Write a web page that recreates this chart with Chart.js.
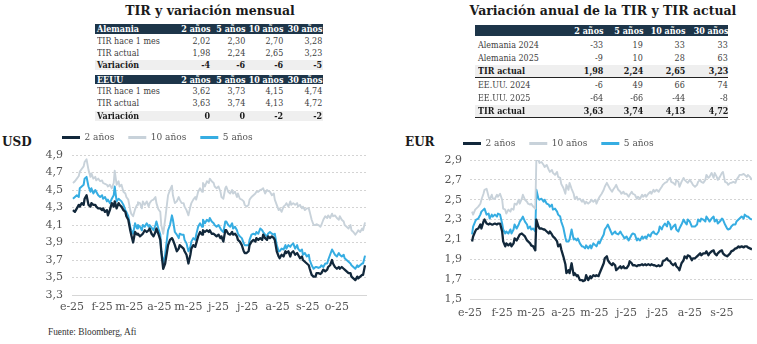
<!DOCTYPE html>
<html lang="es">
<head>
<meta charset="utf-8">
<title>TIR deuda pública EUR y USD</title>
<script src="https://cdn.jsdelivr.net/npm/chart.js@4.4.1/dist/chart.umd.min.js"></script>
<style>
  html, body { margin: 0; padding: 0; background: #fff; }
  body { width: 757px; height: 344px; position: relative; overflow: hidden;
         font-family: 'DejaVu Serif', serif; }
  .title { position: absolute; white-space: nowrap; font-weight: bold; font-size: 12.5px;
           line-height: 14px; color: #1a1a1a; transform: translateX(-50%); }
  .row { position: absolute; white-space: nowrap; font-size: 10px; color: #404040; }
  .row span { position: absolute; top: 0; transform: scaleX(0.8); }
  .row span.lab { transform-origin: left center; }
  .row span.val { transform-origin: right center; }
  .hdr { background: #1d3549; color: #fff; font-weight: bold; }
  .sub { background: #efefef; color: #1a1a1a; font-weight: bold; }
  .ccy { position: absolute; font-weight: bold; font-size: 12px; line-height: 14px; color: #1a1a1a; }
  .box { position: absolute; }
  .note { position: absolute; font-family: 'Liberation Serif', serif; font-size: 9.3px; color: #333; white-space: nowrap; }
</style>
</head>
<body>
<div class="title" style="left:210px;top:4px;">TIR y variación mensual</div>
<div class="title" style="left:603px;top:4px;">Variación anual de la TIR y TIR actual</div>
<div class="ccy" style="left:2px;top:135px;">USD</div>
<div class="ccy" style="left:405px;top:135px;">EUR</div>
<div class="box" style="left:30px;top:119px;"><canvas id="usd" width="350" height="198"></canvas></div>
<div class="box" style="left:431px;top:125px;"><canvas id="eur" width="326" height="198"></canvas></div>
<div class="note" style="left:48px;top:327px;">Fuente: Bloomberg, Afi</div>
<script>
// ---- Tablas ----
const plazos = ['2 años', '5 años', '10 años', '30 años'];
const alemaniaHace1Mes = [2.02, 2.30, 2.70, 3.28];
const alemaniaActual   = [1.98, 2.24, 2.65, 3.23];
const alemaniaVariacion = [-4, -6, -6, -5];
const eeuuHace1Mes = [3.62, 3.73, 4.15, 4.74];
const eeuuActual   = [3.63, 3.74, 4.13, 4.72];
const eeuuVariacion = [0, 0, -2, -2];
const alemania2024 = [-33, 19, 33, 33];
const alemania2025 = [-9, 10, 28, 63];
const eeuu2024 = [-6, 49, 66, 74];
const eeuu2025 = [-64, -66, -44, -8];

// ---- Eje temporal (día del año 2025, 0 = 1 de enero) ----
const monthStarts = [0, 31, 59, 90, 120, 151, 181, 212, 243, 273];
const monthLabels = ['e-25', 'f-25', 'm-25', 'a-25', 'm-25', 'j-25', 'j-25', 'a-25', 's-25', 'o-25'];

// ---- USD ----
const usdDays = [1,3,5,7,8,10,12,13,15,17,19,20,22,24,25,27,29,31,32,34,36,37,39,41,43,44,46,48,49,51,53,55,56,58,60,61,63,65,67,68,70,72,73,75,77,79,80,82,84,86,87,89,
  91,92,94,96,98,99,101,103,104,106,108,110,111,113,115,116,118,120,122,123,125,127,128,130,132,134,135,137,139,141,142,144,146,147,149,151,153,154,156,158,159,161,163,165,166,168,170,171,173,175,177,178,180,182,183,185,187,189,190,192,
  194,196,197,199,201,202,204,206,208,209,211,213,214,216,218,220,221,223,225,226,228,230,232,233,235,237,238,240,242,244,245,247,249,251,252,254,256,257,259,261,263,264,266,268,269,271,273,275,276,278,280,281,283,285,287,288,290,292,294,295,297,299,300,302];
const usd2y = [4.27,4.25,4.29,4.33,4.31,4.35,4.33,4.40,4.44,4.33,4.31,4.35,4.33,4.33,4.31,4.29,4.29,4.27,4.29,4.25,4.27,4.21,4.27,4.35,4.31,4.37,4.29,4.35,4.33,4.31,4.27,4.25,4.20,4.16,4.04,3.99,3.90,4.02,3.99,4.00,3.97,3.99,4.00,4.04,4.02,4.04,4.06,4.00,3.97,4.02,4.06,4.00,
  3.93,3.80,3.60,3.66,3.80,3.87,3.93,3.95,3.93,3.87,3.80,3.83,3.87,3.85,3.83,3.80,3.76,3.66,3.76,3.83,3.87,3.85,3.89,3.97,4.02,3.99,4.04,4.02,4.04,4.02,4.04,4.00,4.00,3.99,3.97,3.99,3.95,3.97,3.91,4.04,4.04,4.00,3.99,4.02,3.99,4.00,3.97,3.93,3.91,3.87,3.80,3.78,3.78,3.80,3.87,3.91,3.93,3.91,3.95,3.93,
  3.95,3.93,3.99,3.95,3.93,3.97,3.95,3.97,3.95,3.93,3.80,3.74,3.72,3.76,3.74,3.80,3.78,3.80,3.74,3.78,3.80,3.76,3.78,3.76,3.72,3.74,3.70,3.68,3.66,3.64,3.60,3.53,3.51,3.51,3.55,3.55,3.54,3.55,3.59,3.57,3.59,3.62,3.64,3.70,3.66,3.62,3.60,3.62,3.60,3.62,3.60,3.59,3.57,3.55,3.55,3.51,3.49,3.47,3.51,3.49,3.51,3.53,3.53,3.64];
const usd10y = [4.58,4.60,4.63,4.66,4.71,4.74,4.77,4.82,4.85,4.73,4.65,4.69,4.63,4.65,4.61,4.63,4.60,4.61,4.58,4.57,4.56,4.54,4.56,4.52,4.58,4.72,4.56,4.60,4.54,4.56,4.48,4.46,4.42,4.39,4.27,4.23,4.20,4.28,4.33,4.36,4.35,4.29,4.37,4.33,4.37,4.31,4.35,4.38,4.39,4.42,4.35,4.28,
  4.25,4.10,4.00,4.16,4.35,4.44,4.50,4.55,4.44,4.35,4.37,4.42,4.39,4.35,4.35,4.31,4.27,4.21,4.31,4.35,4.39,4.42,4.39,4.48,4.52,4.48,4.58,4.54,4.60,4.58,4.63,4.60,4.58,4.54,4.52,4.54,4.48,4.42,4.40,4.52,4.54,4.48,4.46,4.50,4.46,4.48,4.42,4.46,4.40,4.39,4.37,4.33,4.31,4.33,4.39,4.42,4.44,4.46,4.48,4.48,
  4.50,4.51,4.52,4.46,4.50,4.49,4.48,4.44,4.46,4.39,4.33,4.27,4.29,4.25,4.31,4.33,4.35,4.31,4.37,4.33,4.35,4.33,4.35,4.31,4.33,4.29,4.31,4.27,4.29,4.29,4.25,4.16,4.10,4.10,4.11,4.10,4.08,4.10,4.16,4.20,4.18,4.21,4.18,4.23,4.20,4.21,4.18,4.16,4.20,4.16,4.14,4.10,4.08,4.06,4.10,4.04,4.02,3.99,4.02,4.04,4.02,4.06,4.04,4.13];
const usd5y = [4.40,4.42,4.44,4.42,4.52,4.54,4.56,4.63,4.65,4.54,4.48,4.52,4.46,4.50,4.48,4.44,4.42,4.44,4.40,4.42,4.37,4.39,4.35,4.40,4.44,4.54,4.37,4.40,4.39,4.37,4.33,4.27,4.25,4.20,4.08,4.04,4.00,4.12,4.06,4.10,4.08,4.04,4.10,4.08,4.12,4.08,4.10,4.07,4.04,4.10,4.14,4.06,
  3.99,3.80,3.66,3.76,3.95,4.04,4.10,4.21,4.16,4.02,3.99,3.95,4.00,3.99,3.99,3.93,3.89,3.80,3.85,3.91,3.95,3.93,3.99,4.08,4.12,4.08,4.16,4.12,4.16,4.14,4.18,4.14,4.12,4.10,4.08,4.10,4.06,4.04,4.02,4.14,4.14,4.10,4.08,4.12,4.06,4.08,4.04,4.00,3.97,3.95,3.89,3.87,3.87,3.87,3.93,3.99,4.00,3.99,4.02,4.00,
  4.06,4.04,4.02,3.99,3.97,4.00,4.02,4.00,3.99,4.00,3.87,3.80,3.80,3.83,3.82,3.87,3.83,3.87,3.85,3.87,3.89,3.83,3.87,3.83,3.80,3.82,3.76,3.78,3.74,3.76,3.70,3.64,3.60,3.62,3.62,3.61,3.62,3.64,3.62,3.66,3.66,3.70,3.76,3.82,3.80,3.76,3.74,3.78,3.76,3.74,3.76,3.72,3.70,3.68,3.66,3.64,3.62,3.60,3.64,3.62,3.64,3.66,3.66,3.75];

// ---- EUR ----
const eurDays = [2,3,5,6,8,10,11,13,14,16,18,19,21,22,24,26,27,29,31,32,34,35,37,39,40,42,43,45,47,48,50,51,53,55,56,58,59,61,63,64,66,67,69,71,72,74,76,77,79,80,82,84,85,
  87,88,90,92,93,95,96,98,100,101,103,104,106,108,109,111,112,114,116,117,119,121,122,124,125,127,129,130,132,133,135,137,138,140,141,143,145,146,148,149,151,153,154,156,157,159,161,162,164,166,167,169,170,172,174,175,177,
  178,180,182,183,185,186,188,190,191,193,194,196,198,199,201,202,204,206,207,209,210,212,214,215,217,219,220,222,223,225,227,228,230,231,233,235,236,238,239,241,243,244,246,248,249,251,252,254,256,257,259,260,262,264,265,267,268,270,272];
const eur2y = [2.08,2.13,2.18,2.20,2.21,2.25,2.21,2.28,2.30,2.26,2.25,2.26,2.25,2.25,2.26,2.25,2.26,2.26,2.18,2.08,2.03,2.06,2.04,2.06,2.03,2.06,2.11,2.09,2.13,2.15,2.16,2.15,2.13,2.09,2.08,2.06,2.04,2.03,1.99,2.30,2.23,2.21,2.21,2.20,2.20,2.18,2.16,2.18,2.15,2.13,2.11,2.08,2.03,
  2.05,2.00,1.93,1.85,1.76,1.79,1.76,1.86,1.74,1.76,1.73,1.74,1.69,1.69,1.68,1.69,1.74,1.69,1.73,1.71,1.74,1.73,1.74,1.73,1.76,1.81,1.86,1.91,1.93,1.89,1.86,1.84,1.86,1.84,1.79,1.81,1.83,1.81,1.83,1.81,1.81,1.84,1.88,1.86,1.84,1.84,1.83,1.84,1.84,1.85,1.84,1.85,1.84,1.85,1.84,1.85,1.84,
  1.84,1.83,1.84,1.83,1.84,1.88,1.89,1.91,1.89,1.88,1.86,1.84,1.86,1.83,1.81,1.79,1.86,1.89,1.93,1.91,1.94,1.93,1.89,1.91,1.91,1.93,1.94,1.96,1.94,1.96,1.96,1.98,1.94,1.96,1.98,1.99,1.96,1.94,1.96,1.98,1.99,1.96,1.94,1.93,1.94,1.96,1.98,1.99,2.01,2.01,2.03,2.02,2.03,2.02,2.03,2.03,2.02,2.01,2.00];
const eur10y = [2.38,2.35,2.40,2.41,2.43,2.46,2.50,2.56,2.60,2.61,2.53,2.50,2.55,2.51,2.51,2.55,2.53,2.56,2.50,2.41,2.40,2.36,2.40,2.38,2.41,2.40,2.46,2.45,2.50,2.46,2.51,2.55,2.50,2.48,2.46,2.45,2.46,2.43,2.41,2.90,2.90,2.87,2.88,2.85,2.83,2.85,2.80,2.78,2.80,2.77,2.75,2.78,2.73,
  2.72,2.66,2.62,2.56,2.65,2.60,2.67,2.61,2.56,2.51,2.53,2.50,2.51,2.48,2.50,2.46,2.48,2.46,2.48,2.50,2.48,2.50,2.46,2.51,2.53,2.56,2.60,2.63,2.67,2.65,2.61,2.58,2.60,2.63,2.65,2.60,2.58,2.56,2.58,2.56,2.56,2.53,2.55,2.58,2.56,2.55,2.51,2.53,2.51,2.55,2.53,2.55,2.53,2.56,2.58,2.56,2.60,
  2.58,2.60,2.58,2.60,2.63,2.65,2.67,2.68,2.70,2.72,2.68,2.67,2.65,2.70,2.68,2.63,2.68,2.72,2.70,2.68,2.67,2.70,2.67,2.65,2.63,2.65,2.68,2.70,2.68,2.67,2.70,2.75,2.72,2.73,2.77,2.72,2.77,2.73,2.70,2.73,2.77,2.78,2.68,2.67,2.65,2.67,2.67,2.68,2.67,2.70,2.73,2.75,2.75,2.76,2.75,2.73,2.75,2.73,2.70];
const eur5y = [2.15,2.23,2.28,2.30,2.31,2.35,2.38,2.40,2.41,2.35,2.36,2.31,2.35,2.33,2.35,2.33,2.36,2.35,2.26,2.20,2.16,2.18,2.16,2.20,2.16,2.20,2.25,2.21,2.25,2.28,2.31,2.33,2.28,2.25,2.21,2.23,2.20,2.21,2.18,2.60,2.51,2.50,2.51,2.48,2.50,2.46,2.45,2.43,2.45,2.40,2.41,2.38,2.35,
  2.33,2.28,2.22,2.12,2.08,2.08,2.10,2.20,2.10,2.11,2.09,2.11,2.06,2.03,2.03,2.01,2.04,2.01,2.04,2.01,2.06,2.04,2.03,2.08,2.06,2.11,2.15,2.20,2.23,2.25,2.20,2.15,2.16,2.18,2.16,2.15,2.18,2.16,2.13,2.11,2.13,2.09,2.11,2.15,2.16,2.15,2.09,2.11,2.09,2.13,2.11,2.13,2.11,2.15,2.13,2.16,2.18,
  2.16,2.15,2.18,2.23,2.20,2.23,2.26,2.23,2.28,2.25,2.20,2.23,2.25,2.20,2.18,2.21,2.25,2.30,2.28,2.25,2.30,2.28,2.23,2.23,2.23,2.25,2.30,2.28,2.31,2.30,2.28,2.33,2.30,2.28,2.31,2.33,2.28,2.30,2.26,2.28,2.31,2.30,2.25,2.21,2.20,2.21,2.23,2.25,2.25,2.28,2.30,2.31,2.33,2.31,2.35,2.33,2.33,2.31,2.30];

// ---- Colores ----
const C2 = '#12283b', C10 = '#c8d2da', C5 = '#36ade2';
const AXIS_FONT = "'DejaVu Serif', serif";

// ---- Construcción de las tablas ----
const fmtTir = v => v.toFixed(2).replace('.', ',');
const fmtPb = v => String(v);

function addRow(tbl, top, h, label, cells, cls, rule) {
  const r = document.createElement('div');
  r.className = 'row ' + (cls || '');
  Object.assign(r.style, { left: tbl.left + 'px', width: tbl.width + 'px', top: top + 'px',
                           height: h + 'px', lineHeight: h + 'px' });
  if (rule) r.style.borderBottom = '1px solid #222';
  const lab = document.createElement('span');
  lab.className = 'lab';
  lab.textContent = label;
  lab.style.left = tbl.pad + 'px';
  r.appendChild(lab);
  cells.forEach((c, i) => {
    const s = document.createElement('span');
    s.className = 'val';
    s.textContent = c;
    s.style.right = (tbl.width - tbl.cols[i]) + 'px';
    r.appendChild(s);
  });
  document.body.appendChild(r);
}

const t1 = { left: 95, width: 228, pad: 2, cols: [115, 150, 188, 227] };
addRow(t1, 24, 9.5, 'Alemania', plazos, 'hdr');
addRow(t1, 34.5, 12, 'TIR hace 1 mes', alemaniaHace1Mes.map(fmtTir));
addRow(t1, 46.5, 12, 'TIR actual', alemaniaActual.map(fmtTir));
addRow(t1, 59.5, 10.5, 'Variación', alemaniaVariacion.map(fmtPb), 'sub');
addRow(t1, 74.5, 9, 'EEUU', plazos, 'hdr');
addRow(t1, 85, 12, 'TIR hace 1 mes', eeuuHace1Mes.map(fmtTir));
addRow(t1, 97, 12, 'TIR actual', eeuuActual.map(fmtTir));
addRow(t1, 110.5, 10, 'Variación', eeuuVariacion.map(fmtPb), 'sub');

const t2 = { left: 475, width: 253, pad: 3, cols: [128, 168, 210, 253] };
addRow(t2, 24.5, 11.5, '', plazos, 'hdr');
addRow(t2, 39, 12, 'Alemania 2024', alemania2024.map(fmtPb));
addRow(t2, 52, 12, 'Alemania 2025', alemania2025.map(fmtPb));
addRow(t2, 65, 11.7, 'TIR actual', alemaniaActual.map(fmtTir), 'sub', true);
addRow(t2, 79, 12, 'EE.UU. 2024', eeuu2024.map(fmtPb));
addRow(t2, 92, 12, 'EE.UU. 2025', eeuu2025.map(fmtPb));
addRow(t2, 105, 11.7, 'TIR actual', eeuuActual.map(fmtTir), 'sub', true);

// ---- Gráficos ----
// Fija la altura de la leyenda y desplaza sus elementos hacia la derecha
const legendPlacement = {
  id: 'legendPlacement',
  beforeInit(chart, args, opts) {
    const lg = chart.legend;
    if (!lg) return;
    const fit = lg.fit.bind(lg);
    lg.fit = function () { fit(); this.height = opts.height; };
    const draw = lg.draw.bind(lg);
    lg.draw = function () {
      this.left += opts.shift; this.right += opts.shift;
      draw();
      this.left -= opts.shift; this.right -= opts.shift;
    };
  }
};

function series(label, values, color, width) {
  return { label, data: values, borderColor: color, backgroundColor: color,
           borderWidth: width, pointRadius: 0, tension: 0, borderJoinStyle: 'round' };
}

function lineChart(id, s2, s10, s5, cfg) {
  return new Chart(document.getElementById(id), {
    type: 'line',
    data: {
      datasets: [
        series('2 años', s2, C2, 2.3),
        series('10 años', s10, C10, 1.9),
        series('5 años', s5, C5, 2)
      ]
    },
    plugins: [legendPlacement],
    options: {
      responsive: false,
      animation: false,
      devicePixelRatio: 1,
      layout: { padding: { left: cfg.padLeft, right: cfg.padRight, top: 0, bottom: 0 } },
      plugins: {
        legendPlacement: { height: cfg.legendH, shift: cfg.legendShift },
        tooltip: { enabled: false },
        legend: {
          display: true, position: 'top', align: 'start',
          labels: {
            boxWidth: 18, boxHeight: 3, padding: 14, color: '#555',
            font: { family: AXIS_FONT, size: 9 },
            generateLabels(chart) {
              return Chart.defaults.plugins.legend.labels.generateLabels(chart)
                .map(l => Object.assign(l, { lineWidth: 0, fillStyle: l.strokeStyle }));
            }
          }
        }
      },
      scales: {
        x: {
          type: 'linear', min: 0, max: cfg.xMax,
          grid: { display: false, drawTicks: false, tickLength: 0 },
          border: { display: true, color: '#d6d6d6', width: 1 },
          ticks: {
            autoSkip: false, maxRotation: 0, padding: cfg.xPad, color: '#555',
            font: { family: AXIS_FONT, size: 11 },
            callback: v => { const i = monthStarts.indexOf(v); return i < 0 ? '' : monthLabels[i]; }
          },
          afterBuildTicks: s => { s.ticks = monthStarts.filter(d => d <= s.max).map(v => ({ value: v })); },
          afterFit: s => { s.height = cfg.xH; }
        },
        y: {
          min: cfg.yMin, max: cfg.yMax,
          grid: { color: '#d4d4d4', lineWidth: 1, drawTicks: false, tickLength: 0 },
          border: { display: false, dash: [2, 2] },
          ticks: {
            stepSize: 0.2, padding: cfg.yPad, color: '#555',
            font: { family: AXIS_FONT, size: 11 },
            callback: v => v.toFixed(1).replace('.', ',')
          },
          afterFit: s => { s.width = cfg.yW; }
        }
      }
    }
  });
}

// El eje x es lineal: cada punto se sitúa en su día
const toXY = (days, vals) => vals.map((v, i) => ({ x: days[i], y: v }));

lineChart('usd', toXY(usdDays, usd2y), toXY(usdDays, usd10y), toXY(usdDays, usd5y),
  { yMin: 3.3, yMax: 4.9, xMax: 303, padLeft: 10, padRight: 14, legendH: 36, legendShift: 8,
    yW: 32, yPad: 9, xH: 22, xPad: 6 });
lineChart('eur', toXY(eurDays, eur2y), toXY(eurDays, eur10y), toXY(eurDays, eur5y),
  { yMin: 1.5, yMax: 2.9, xMax: 272, padLeft: 10, padRight: 5, legendH: 35, legendShift: 8,
    yW: 29, yPad: 8, xH: 24, xPad: 8 });
</script>
</body>
</html>
